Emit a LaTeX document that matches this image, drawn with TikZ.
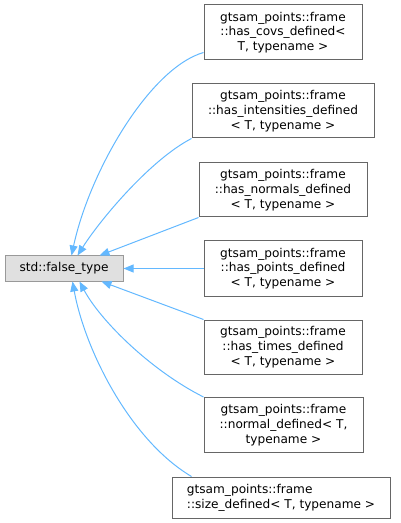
\documentclass[tikz,border=0pt]{standalone}
\usepackage{fontspec}
\setmainfont{DejaVu Sans}
\usetikzlibrary{arrows.meta,calc}
\definecolor{edgeblue}{RGB}{99,184,255}
\definecolor{basefill}{RGB}{224,224,224}
\definecolor{baseborder}{RGB}{153,153,153}
\definecolor{boxborder}{RGB}{102,102,102}
\tikzset{
  cls/.style={draw=boxborder, fill=white, line width=0.75pt, inner sep=0pt, align=center,
    font=\fontsize{9.1}{11}\selectfont},
  basecls/.style={cls, draw=baseborder, fill=basefill},
  inh/.style={draw=edgeblue, line width=0.75pt, -{Triangle[length=7.5pt,width=6pt]}}
}
\begin{document}
\begin{tikzpicture}[x=0.75pt,y=-0.75pt]
\useasboundingbox (0,0) rectangle (400,523);
\node[basecls, minimum width=88.5pt, minimum height=18.75pt] (base) at (64,268.5) {std::false\_type};
\node[cls, minimum width=118.5pt, minimum height=41.25pt] (b1) at (283,32.5) {gtsam\_points::frame\\::has\_covs\_defined<\\ T, typename >};
\node[cls, minimum width=136.5pt, minimum height=40.5pt] (b2) at (283,111) {gtsam\_points::frame\\::has\_intensities\_defined\\< T, typename >};
\node[cls, minimum width=126pt, minimum height=40.5pt] (b3) at (283,190) {gtsam\_points::frame\\::has\_normals\_defined\\< T, typename >};
\node[cls, minimum width=118.5pt, minimum height=41.25pt] (b4) at (283,268.5) {gtsam\_points::frame\\::has\_points\_defined\\< T, typename >};
\node[cls, minimum width=118.5pt, minimum height=40.5pt] (b5) at (283,347) {gtsam\_points::frame\\::has\_times\_defined\\< T, typename >};
\node[cls, minimum width=119.25pt, minimum height=41.25pt] (b6) at (283.5,425) {gtsam\_points::frame\\::normal\_defined< T,\\typename >};
\node[cls, align=left, minimum width=163.5pt, minimum height=30.75pt] (b7) at (281,497.5) {gtsam\_points::frame\\::size\_defined< T, typename >};

\draw[inh] ($(b1.south west)+(0,-8)$) .. controls (150,68) and (90,170) .. ($(base.north west)+(67,0)$);
\draw[inh] (b2.south west) .. controls (150,160) and (100,220) .. ($(base.north west)+(73,0)$);
\draw[inh] (b3.south west) -- ($(base.north west)+(95,0)$);
\draw[inh] (b4.west) -- (base.east);
\draw[inh] (b5.north west) -- ($(base.south west)+(97,0)$);
\draw[inh] (b6.north west) .. controls (150,370) and (100,320) .. ($(base.south west)+(75,0)$);
\draw[inh] ($(b7.north west)+(20,0)$) .. controls (130,440) and (85,350) .. ($(base.south west)+(68,0)$);
\end{tikzpicture}
\end{document}
